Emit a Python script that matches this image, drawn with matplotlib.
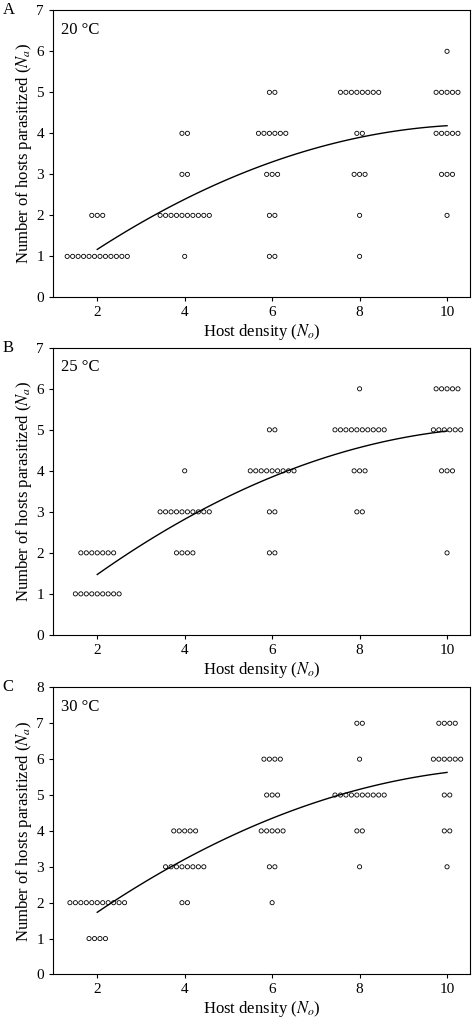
import matplotlib
matplotlib.use("Agg")
import matplotlib.pyplot as plt
import numpy as np

plt.rcParams['font.family'] = ['Liberation Serif', 'DejaVu Serif']
plt.rcParams['mathtext.fontset'] = 'stix'

densities = [2, 4, 6, 8, 10]
# counts of replicates at each (density, y) : dict density -> {y: count}
counts_20 = {2: {1: 12, 2: 3}, 4: {1: 1, 2: 10, 3: 2, 4: 2},
             6: {1: 2, 2: 2, 3: 3, 4: 6, 5: 2}, 8: {1: 1, 2: 1, 3: 3, 4: 2, 5: 8},
             10: {2: 1, 3: 3, 4: 5, 5: 5, 6: 1}}
counts_25 = {2: {1: 9, 2: 7}, 4: {2: 4, 3: 10, 4: 1},
             6: {2: 2, 3: 2, 4: 9, 5: 2}, 8: {3: 2, 4: 3, 5: 10, 6: 1},
             10: {2: 1, 4: 3, 5: 6, 6: 5}}
counts_30 = {2: {1: 4, 2: 11}, 4: {2: 2, 3: 8, 4: 5},
             6: {2: 1, 3: 2, 4: 5, 5: 3, 6: 4}, 8: {3: 1, 4: 2, 5: 10, 6: 1, 7: 2},
             10: {3: 1, 4: 2, 5: 2, 6: 6, 7: 4}}
# fitted quadratic coefficients (a, b, c): Na = a + b*No + c*No^2
fit_20 = (-0.364, 0.845, -0.039)
fit_25 = (-0.19, 0.91, -0.0394)
fit_30 = (-0.08, 0.99, -0.0419)

panels = [("A", "20 °C", counts_20, fit_20, 7),
          ("B", "25 °C", counts_25, fit_25, 7),
          ("C", "30 °C", counts_30, fit_30, 8)]
bottoms = [0.711, 0.383, 0.053]

fig = plt.figure(figsize=(4.74, 10.29), dpi=100)
for (lab, temp, counts, fit, ymax), b in zip(panels, bottoms):
    ax = fig.add_axes([0.112, b, 0.88, 0.279])
    xs, ys = [], []
    for d in densities:
        for yv, n in counts[d].items():
            offs = (np.arange(n) - (n - 1) / 2) * 0.125
            xs.extend(d + offs)
            ys.extend([yv] * n)
    ax.scatter(xs, ys, s=9, facecolors='none', edgecolors='black', linewidths=0.6, zorder=3)
    xx = np.linspace(2, 10, 100)
    a, bb, c = fit
    ax.plot(xx, a + bb * xx + c * xx ** 2, color='black', lw=1.0)
    ax.set_xlim(0.99, 10.53)
    ax.set_ylim(0, ymax)
    ax.set_xticks(densities)
    ax.set_yticks(range(0, ymax + 1))
    ax.tick_params(direction='out', labelsize=11, length=3)
    ax.set_xlabel(r"Host density ($N_o$)", fontsize=12, labelpad=2)
    ax.set_ylabel(r"Number of hosts parasitized ($N_a$)", fontsize=12, labelpad=2)
    ax.text(0.02, 0.96, temp, transform=ax.transAxes, fontsize=12, va='top', ha='left')
    fig.text(0.005, b + 0.279, lab, fontsize=12, va='center', ha='left')

fig.savefig("out.png", dpi=100)
